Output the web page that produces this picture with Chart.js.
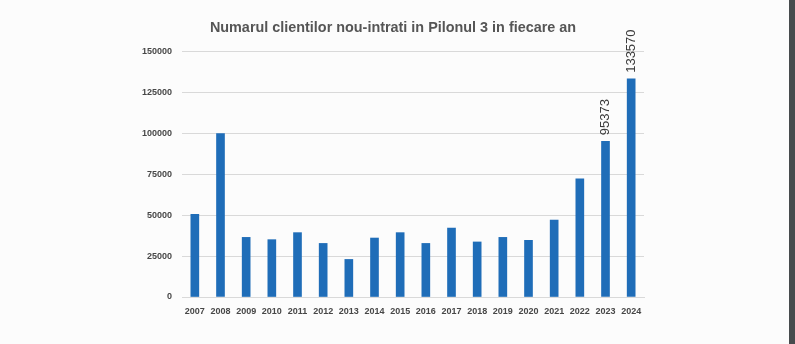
<!DOCTYPE html>
<html>
<head>
<meta charset="utf-8">
<script src="https://cdn.jsdelivr.net/npm/chart.js@4.4.0/dist/chart.umd.min.js"></script>
<style>
  html, body { margin: 0; padding: 0; background: #fcfcfc; }
  .wrap { position: relative; width: 795px; height: 344px; overflow: hidden; }
  .edge { position: absolute; top: 0; right: 0; width: 6px; height: 344px; background: #474b4d; }
</style>
</head>
<body>
<div class="wrap">
  <canvas id="chart" width="795" height="344"></canvas>
  <div class="edge"></div>
</div>
<script>
const years = ['2007', '2008', '2009', '2010', '2011', '2012', '2013', '2014', '2015',
  '2016', '2017', '2018', '2019', '2020', '2021', '2022', '2023', '2024'];
const clienti = [50600, 100000, 36500, 35100, 39400, 32800, 23000, 36100, 39400,
  32800, 42200, 33700, 36500, 34700, 47100, 72400, 95373, 133570];
// only the last two bars carry a value label
const labeledYears = ['2023', '2024'];
const yTicks = [0, 25000, 50000, 75000, 100000, 125000, 150000];

const valueLabels = {
  id: 'valueLabels',
  afterDatasetsDraw(chart) {
    const ctx = chart.ctx;
    const meta = chart.getDatasetMeta(0);
    ctx.save();
    ctx.font = '13px "Liberation Sans", Arial, sans-serif';
    ctx.fillStyle = '#3a3a3a';
    ctx.textAlign = 'left';
    ctx.textBaseline = 'middle';
    meta.data.forEach((bar, i) => {
      if (!labeledYears.includes(years[i])) return;
      ctx.save();
      ctx.translate(bar.x, bar.y - 6);
      ctx.rotate(-Math.PI / 2);
      ctx.fillText(String(clienti[i]), 0, 0);
      ctx.restore();
    });
    ctx.restore();
  }
};

new Chart(document.getElementById('chart'), {
  type: 'bar',
  data: {
    labels: years,
    datasets: [{
      data: clienti,
      backgroundColor: '#1f6db8',
      barThickness: 8,
    }],
  },
  options: {
    responsive: false,
    animation: false,
    layout: { padding: { left: 0, right: 9, top: 0, bottom: 0 } },
    plugins: {
      legend: { display: false },
      tooltip: { enabled: false },
      title: {
        display: true,
        text: 'Numarul clientilor nou-intrati in Pilonul 3 in fiecare an',
        color: '#555555',
        font: { family: '"Liberation Sans", Arial', size: 14.4, weight: 'bold', lineHeight: 1.2 },
        padding: { top: 19, bottom: 15.7 },
      },
    },
    scales: {
      x: {
        grid: { display: false },
        border: { display: true, color: '#d9d9d9' },
        ticks: {
          color: '#474747',
          font: { family: '"Liberation Sans", Arial', size: 9, weight: 'bold' },
          maxRotation: 0,
          autoSkip: false,
          padding: 1,
        },
        afterFit(scale) { scale.height = 47; },
      },
      y: {
        min: 0,
        max: 150000,
        afterBuildTicks(scale) { scale.ticks = yTicks.map(v => ({ value: v })); },
        grid: { color: '#d9d9d9', tickLength: 0, drawTicks: false },
        border: { display: false },
        ticks: {
          color: '#474747',
          font: { family: '"Liberation Sans", Arial', size: 9, weight: 'bold' },
          padding: 10,
          callback: (v) => String(v),
        },
        afterFit(scale) { scale.width = 182; },
      },
      // empty spacer axis on the right, keeps the title centred on the page
      spacer: {
        position: 'right',
        display: true,
        grid: { display: false, drawTicks: false },
        border: { display: false },
        ticks: { display: false },
        afterFit(scale) { scale.width = 142; },
      },
    },
  },
  plugins: [valueLabels],
});
</script>
</body>
</html>
